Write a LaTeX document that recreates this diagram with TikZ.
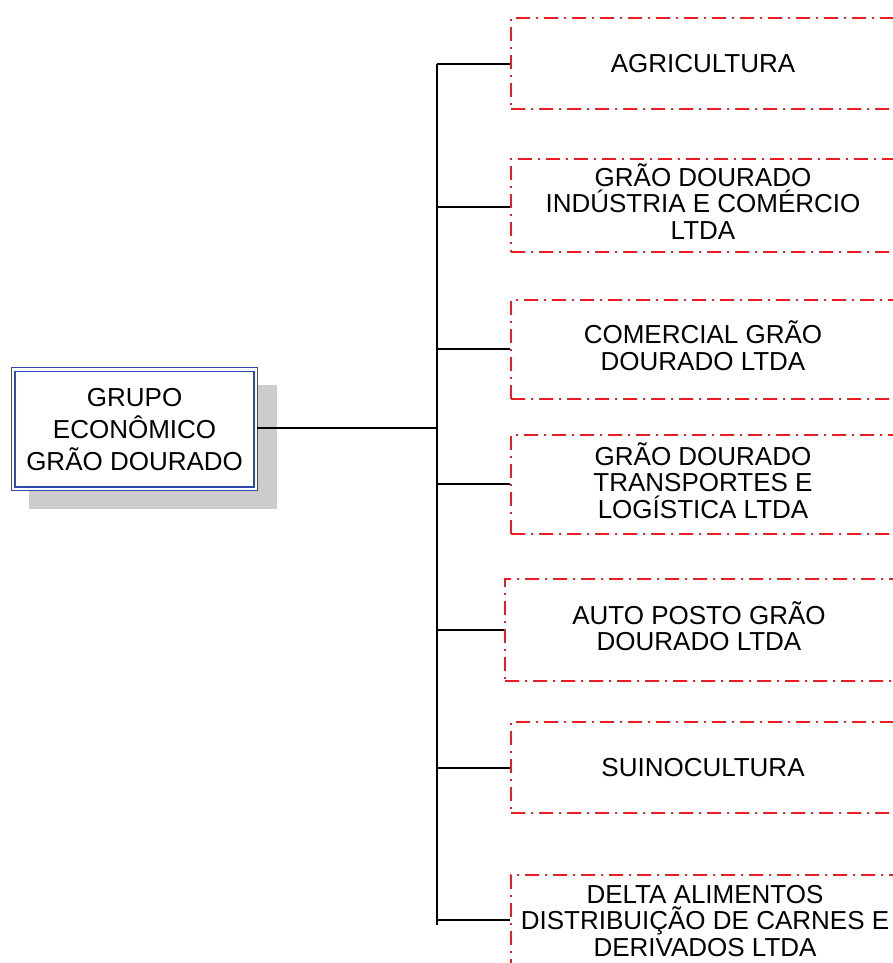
\documentclass[tikz,border=0pt]{standalone}
\usepackage{fontspec}
\setmainfont{Liberation Sans}
\definecolor{dashred}{RGB}{237,28,36}
\definecolor{dblue}{RGB}{45,75,170}
\definecolor{shadowgray}{RGB}{204,204,204}
\begin{document}
\begin{tikzpicture}[x=1pt,y=-1pt,
  orgbox/.style={draw=dashred, line width=1.6pt, dash pattern=on 14pt off 6pt on 2pt off 6pt,
    minimum width=384pt, inner sep=0pt},
  boxlabel/.style={align=center, inner sep=0pt, font=\fontsize{26}{26.5}\selectfont},
  mainbox/.style={draw=dblue, double=white, double distance=2.2pt, line width=1.4pt, fill=white,
    minimum width=242.7pt, minimum height=119.5pt, align=center, inner sep=0pt,
    font=\fontsize{26}{32}\selectfont},
  shadowbox/.style={fill=shadowgray, minimum width=248pt, minimum height=124pt, inner sep=0pt},
  link/.style={draw=black, line width=1.3pt}]
\useasboundingbox (0,0) rectangle (893,963);
\clip (0,0) rectangle (893,963);
% main box with shadow
\node[shadowbox] (sh) at (153,447) {};
\node[mainbox] (main) at (134.6,429.2) {GRUPO\\ECONÔMICO\\GRÃO DOURADO};
% company boxes
\node[orgbox, minimum height=91pt] (b1) at (703,63.5) {};
\node[orgbox, minimum height=93pt] (b2) at (703,205.5) {};
\node[orgbox, minimum height=99pt] (b3) at (703,349.5) {};
\node[orgbox, minimum height=99pt] (b4) at (703,484.5) {};
\node[orgbox, minimum height=102pt, minimum width=400pt] (b5) at (705,630) {};
\node[orgbox, minimum height=91pt] (b6) at (703,767.5) {};
\node[orgbox, minimum height=100pt] (b7) at (703,925) {};
% labels
\node[boxlabel] (l1) at (b1.center) {AGRICULTURA};
\node[boxlabel, yshift=4pt] (l2) at (b2.center) {GRÃO DOURADO\\INDÚSTRIA E COMÉRCIO\\LTDA};
\node[boxlabel, yshift=4pt] (l3) at (b3.center) {COMERCIAL GRÃO\\DOURADO LTDA};
\node[boxlabel, yshift=4pt] (l4) at (b4.center) {GRÃO DOURADO\\TRANSPORTES E\\LOGÍSTICA LTDA};
\node[boxlabel, yshift=4pt] (l5) at (699,630) {AUTO POSTO GRÃO\\DOURADO LTDA};
\node[boxlabel] (l6) at (b6.center) {SUINOCULTURA};
\node[boxlabel] (l7) at (705,921) {DELTA ALIMENTOS\\DISTRIBUIÇÃO DE CARNES E\\DERIVADOS LTDA};
% trunk and junctions
\coordinate (top) at (437,64);
\coordinate (bot) at (437,925);
\coordinate (j0) at (437,428);
\coordinate (j1) at (437,64);
\coordinate (j2) at (437,207);
\coordinate (j3) at (437,349);
\coordinate (j4) at (437,484);
\coordinate (j5) at (437,630);
\coordinate (j6) at (437,768);
\coordinate (j7) at (437,920);
\draw[link] (top) -- (bot);
\draw[link] (main.east |- j0) -- (j0);
\draw[link] (j1) -- (b1.west |- j1);
\draw[link] (j2) -- (b2.west |- j2);
\draw[link] (j3) -- (b3.west |- j3);
\draw[link] (j4) -- (b4.west |- j4);
\draw[link] (j5) -- (b5.west |- j5);
\draw[link] (j6) -- (b6.west |- j6);
\draw[link] (j7) -- (b7.west |- j7);
\end{tikzpicture}
\end{document}
